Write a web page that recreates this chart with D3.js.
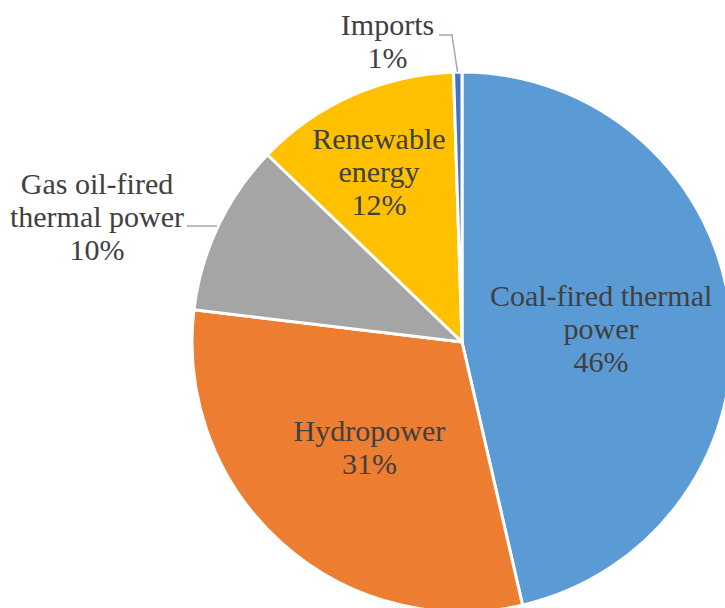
<!DOCTYPE html>
<html>
<head>
<meta charset="utf-8">
<script src="https://cdn.jsdelivr.net/npm/d3@7"></script>
</head>
<body style="margin:0">
<svg id="chart" width="725" height="608"></svg>
<script>
// Electricity generation mix (share of total, %)
const categories = ["Coal-fired thermal power", "Hydropower", "Gas oil-fired thermal power", "Renewable energy", "Imports"];
const shares = [46.4, 30.5, 10.3, 12.3, 0.5];
const colors = ["#5B9BD5", "#ED7D31", "#A5A5A5", "#FFC000", "#4472C4"];
// Line breaks used for each data label's category name
const labelLines = [["Coal-fired thermal", "power"], ["Hydropower"], ["Gas oil-fired", "thermal power"], ["Renewable", "energy"], ["Imports"]];

const cx = 462, cy = 342, R = 270;
const labelSize = 30, lineH = 33;
const textColor = "#404040";

const svg = d3.select("#chart");
const pieLayer = svg.append("g").attr("transform", `translate(${cx},${cy})`);

const data = categories.map((c, i) => ({ name: c, value: shares[i], color: colors[i], lines: labelLines[i] }));

const pie = d3.pie().value(d => d.value).sort(null);
const arcs = pie(data);
const arc = d3.arc().innerRadius(0).outerRadius(R);

pieLayer.selectAll("path.slice")
  .data(arcs)
  .join("path")
  .attr("class", "slice")
  .attr("d", arc)
  .attr("fill", d => d.data.color)
  .attr("stroke", "#fff")
  .attr("stroke-width", 3)
  .attr("stroke-linejoin", "round");

const pct = v => Math.round(v) + "%";

// Label placement: inside labels sit on a radius through the slice middle,
// outside labels hang off a leader line.
const placement = [
  { kind: "inside", r: 140, shift: [0, 2] },
  { kind: "inside", r: 140, shift: [1, 1] },
  { kind: "outside", at: [-365, -125.5], leader: [[-275, -116], [-245, -116]] },
  { kind: "inside", r: 185, shift: [-8, -1] },
  { kind: "outside", at: [-74.5, -301], leader: [[-23, -307], [-10, -307], [-4.5, -270]] }
];

arcs.forEach((a, i) => {
  const p = placement[i];
  let x, y;
  if (p.kind === "inside") {
    const mid = (a.startAngle + a.endAngle) / 2;
    x = Math.sin(mid) * p.r + p.shift[0];
    y = -Math.cos(mid) * p.r + p.shift[1];
  } else {
    x = p.at[0];
    y = p.at[1];
    pieLayer.append("path")
      .attr("d", d3.line()(p.leader))
      .attr("fill", "none")
      .attr("stroke", "#A6A6A6")
      .attr("stroke-width", 1.5);
  }
  const lines = a.data.lines.concat([pct(a.data.value)]);
  const top = y - (lines.length - 1) * lineH / 2;
  lines.forEach((ln, k) => {
    svg.append("text")
      .attr("x", cx + x)
      .attr("y", cy + top + k * lineH + labelSize * 0.35)
      .attr("text-anchor", "middle")
      .attr("font-size", labelSize)
      .style("font-family", "Times New Roman")
      .style("fill", textColor)
      .text(ln);
  });
});
</script>
</body>
</html>
